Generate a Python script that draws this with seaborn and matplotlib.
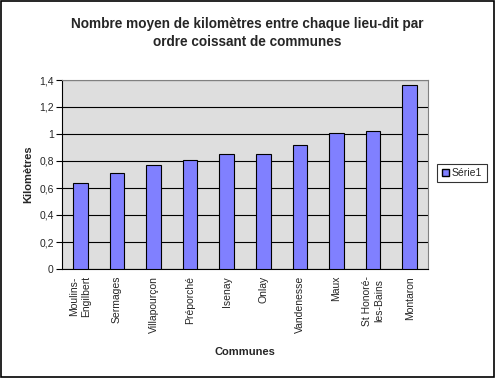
import numpy as np
import pandas as pd
import matplotlib
matplotlib.use("Agg")
import matplotlib.pyplot as plt
import seaborn as sns
from matplotlib.patches import Patch, Rectangle
from matplotlib.ticker import FuncFormatter, FixedLocator

communes = ["Moulins-\nEngilbert", "Sermages", "Villapourçon", "Préporché", "Isenay",
            "Onlay", "Vandenesse", "Maux", "St Honoré-\nles-Bains", "Montaron"]
kilometres = [0.635, 0.71, 0.77, 0.805, 0.85, 0.85, 0.915, 1.005, 1.02, 1.36]

df = pd.DataFrame({"Communes": communes, "Kilomètres": kilometres})

sns.set_style("white")
plt.rcParams["font.family"] = ["Liberation Sans", "DejaVu Sans"]

fig = plt.figure(figsize=(4.95, 3.78), dpi=100)
ax = fig.add_axes([62 / 495, 1 - 269 / 378, 366 / 495, 189 / 378])
ax.set_facecolor("#dedede")

sns.barplot(data=df, x="Communes", y="Kilomètres", color="#8080ff", saturation=1,
            width=0.4, edgecolor="black", linewidth=0.8, ax=ax, zorder=3)

ax.set_xlim(-0.5, len(communes) - 0.5)
ax.set_ylim(0, 1.4)
ax.set_yticks(np.arange(0, 1.41, 0.2))
ax.yaxis.set_major_formatter(FuncFormatter(lambda v, p: f"{v:g}".replace(".", ",")))
ax.grid(axis="y", color="black", linewidth=0.8, zorder=0)
ax.set_axisbelow(True)

ax.tick_params(axis="x", which="major", length=0, labelsize=7.5, labelrotation=90, pad=5)
ax.xaxis.set_minor_locator(FixedLocator(np.arange(-0.5, len(communes), 1)))
ax.tick_params(axis="x", which="minor", direction="inout", length=5, width=0.8, color="black")
ax.tick_params(axis="y", direction="out", length=4, width=0.8, color="black", labelsize=7.5, pad=2, left=True)

for s in ["top", "right"]:
    ax.spines[s].set_color("#808080")
    ax.spines[s].set_linewidth(0.8)
for s in ["left", "bottom"]:
    ax.spines[s].set_color("black")
    ax.spines[s].set_linewidth(0.8)

ax.set_xlabel("Communes", fontsize=8, fontweight="bold", labelpad=10)
ax.set_ylabel("Kilomètres", fontsize=8, fontweight="bold", labelpad=4)

fig.suptitle("Nombre moyen de kilomètres entre chaque lieu-dit par\nordre coissant de communes",
             fontsize=9.8, fontweight="bold", y=0.955, linespacing=1.35)

handles = [Patch(facecolor="#8080ff", edgecolor="black", label="Série1")]
leg = fig.legend(handles=handles, loc="center", bbox_to_anchor=(462 / 495, 1 - 173 / 378),
                 fontsize=7.5, frameon=True, fancybox=False, edgecolor="black",
                 handlelength=0.7, handleheight=0.7, handletextpad=0.3, borderpad=0.4)
leg.get_frame().set_linewidth(0.8)

fig.patches.append(Rectangle((0.002, 0.003), 0.995, 0.994, transform=fig.transFigure,
                             fill=False, edgecolor="black", linewidth=1.2))

fig.savefig("out.png", dpi=100)
